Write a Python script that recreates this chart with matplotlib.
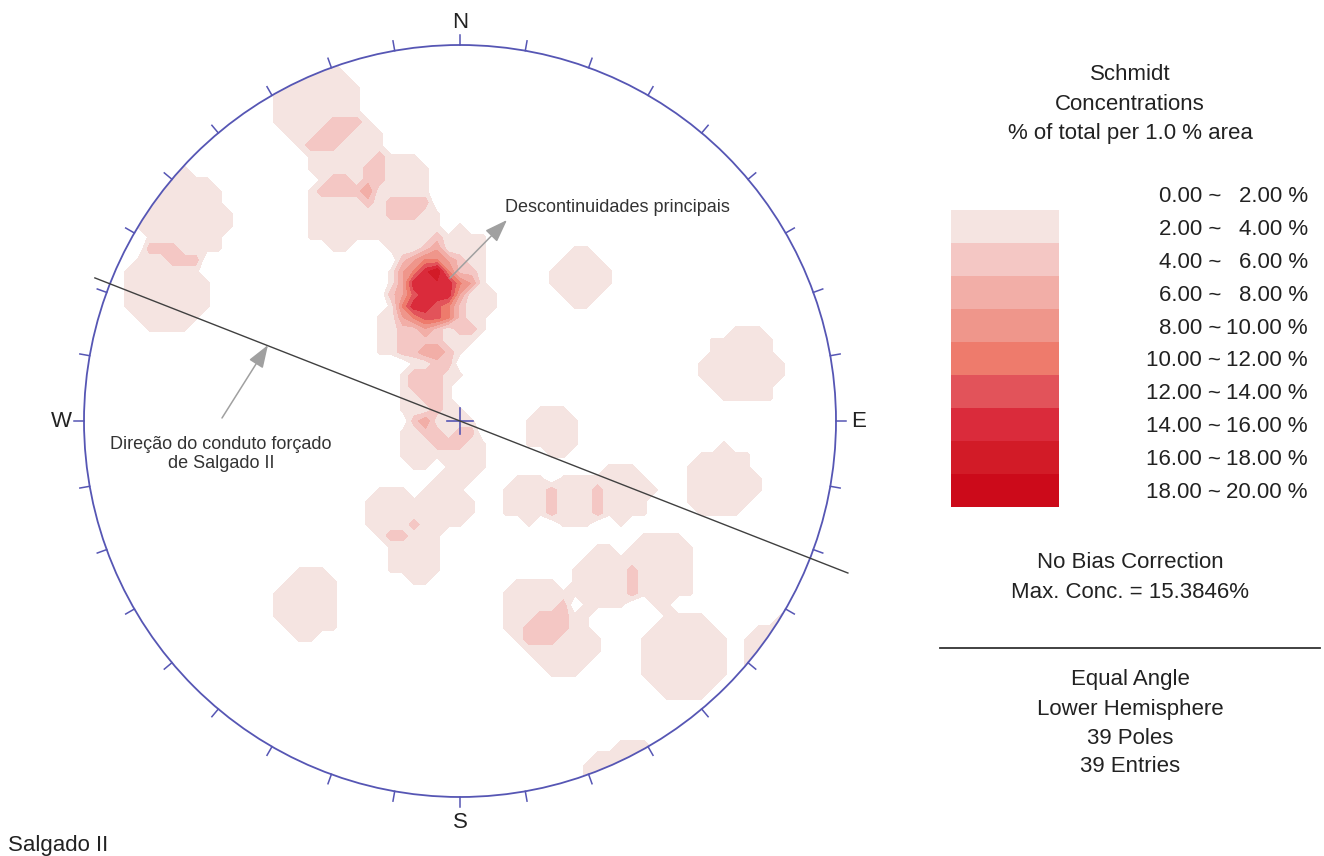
import numpy as np
import matplotlib
matplotlib.use("Agg")
import matplotlib.pyplot as plt
from matplotlib.patches import Circle

# poles: east / north, unit = primitive radius
pole_e = [-0.731, -0.777, -0.378, -0.298, -0.319, -0.165,
          0.319, 0.745, 0.247, 0.686, -0.404,
          -0.120, -0.045, -0.106, -0.059, -0.082, -0.080,
          -0.106, -0.040, -0.066, -0.106, -0.133, -0.165, 0.021,
          -0.027, -0.106, 0.013, 0.005,
          -0.181, -0.040, -0.120,
          0.181, 0.306, 0.431, 0.378, 0.532, 0.199, 0.271, 0.585]
pole_n = [0.540, 0.343, 0.832, 0.694, 0.548, 0.628,
          0.380, 0.141, -0.024, -0.165, -0.484,
          0.370, 0.375, 0.338, 0.332, 0.380, 0.322,
          0.242, 0.223, 0.122, 0.069, 0.503, 0.242, 0.309,
          -0.019, -0.064, -0.090, 0.434,
          -0.242, -0.223, -0.351,
          -0.202, -0.210, -0.189, -0.423, -0.391, -0.503, -0.582, -0.622]

levels = [0, 2, 4, 6, 8, 10, 12, 14, 16, 18, 20]
level_colors = ['#f5e4e1', '#f4c7c4', '#f2aea7', '#ef968b', '#ee7b6c',
                '#e2535a', '#da2b3b', '#d21b27', '#cc0a1a']
penstock_trend = 111.4
max_conc = 15.3846
n_poles = len(pole_e)

W, H = 1324, 856
cx, cy, R = 460, 421, 376
plt.rcParams['font.family'] = ['Liberation Sans', 'DejaVu Sans']


def fpx(px, py):
    # image pixel (top-left origin) -> figure fraction
    return px / W, 1 - py / H


def to_vec(x, y):
    # inverse equal-angle projection, lower hemisphere
    r2 = x ** 2 + y ** 2
    return np.stack([2 * x, 2 * y, 1 - r2]) / (1 + r2)


fig = plt.figure(figsize=(W / 100, H / 100), dpi=100)
half = 400
ax = fig.add_axes([(cx - half) / W, (H - cy - half) / H, 2 * half / W, 2 * half / H])
ax.set_xlim(-half / R, half / R)
ax.set_ylim(-half / R, half / R)
ax.axis('off')

# Schmidt counting, 1% area circle, wrap-around at the primitive
g = np.linspace(-1.1, 1.1, 73)
gx, gy = np.meshgrid(g, g)
nodes = to_vec(gx, gy)
poles = to_vec(np.array(pole_e), np.array(pole_n))
dots = np.abs(np.einsum('ijk,il->jkl', nodes, poles))
dens = (dots >= 0.99).sum(axis=-1) / n_poles * 100
print('max density', dens[gx ** 2 + gy ** 2 <= 1].max())

prim = Circle((0, 0), 1, fill=False, ec='#5656b4', lw=1.3, zorder=3)
ax.add_patch(prim)
cf = ax.contourf(gx, gy, dens, levels=levels[1:], colors=level_colors, zorder=1)
cf.set_clip_path(prim)

# ticks every 10 degrees
for az in range(0, 360, 10):
    s, c = np.sin(np.radians(az)), np.cos(np.radians(az))
    ax.plot([s, s * (1 + 10 / R)], [c, c * (1 + 10 / R)], color='#5656b4', lw=1.1, zorder=3)
# centre cross
d = 13 / R
ax.plot([-d, d], [0, 0], color='#5656b4', lw=1.2, zorder=3)
ax.plot([0, 0], [-d, d], color='#5656b4', lw=1.2, zorder=3)

# penstock direction
s, c = np.sin(np.radians(penstock_trend)), np.cos(np.radians(penstock_trend))
ax.plot([-1.043 * s, 1.108 * s], [-1.043 * c, 1.108 * c], color='#404040', lw=1.0, zorder=4)

for lab, px, py, ha in [('N', 460, 22, 'center'), ('S', 460, 823, 'center'),
                        ('W', 72, 421, 'right'), ('E', 851, 421, 'left')]:
    fig.text(*fpx(px, py), lab, ha=ha, va='center', fontsize=16, color='#222222')

arrow = dict(arrowstyle='-|>,head_length=0.7,head_width=0.25', color='#a0a0a0',
             lw=1.1, mutation_scale=20, shrinkA=0, shrinkB=0)
ax.annotate('', xy=((507 - cx) / R, (cy - 220) / R), xytext=((450 - cx) / R, (cy - 278) / R),
            arrowprops=arrow, zorder=5)
ax.annotate('', xy=((268 - cx) / R, (cy - 345) / R), xytext=((222 - cx) / R, (cy - 418) / R),
            arrowprops=arrow, zorder=5)
fig.text(*fpx(505, 208), 'Descontinuidades principais', ha='left', va='center',
         fontsize=13, color='#333333')
fig.text(*fpx(221, 454), 'Direção do conduto forçado\nde Salgado II', ha='center',
         va='center', fontsize=13, color='#333333', linespacing=1.1)

# legend
for i, t in enumerate(['Schmidt', 'Concentrations', '% of total per 1.0 % area']):
    fig.text(*fpx(1130, 75 + 29 * i), t, ha='center', va='center', fontsize=16, color='#222222')

bar_top, bar_h = 210, 33
lax = fig.add_axes([951 / W, (H - bar_top - bar_h * 9) / H, 108 / W, bar_h * 9 / H])
lax.bar(np.zeros(9), np.ones(9), bottom=np.arange(9), width=1, color=level_colors)
lax.set_xlim(-0.5, 0.5)
lax.set_ylim(9, 0)
lax.axis('off')

for i in range(len(levels) - 1):
    y = 197 + 32.8 * i
    fig.text(*fpx(1221, y), f'{levels[i]:.2f} ~', ha='right', va='center', fontsize=16, color='#222222')
    fig.text(*fpx(1308, y), f'{levels[i + 1]:.2f} %', ha='right', va='center', fontsize=16, color='#222222')

fig.text(*fpx(1130, 563), 'No Bias Correction', ha='center', va='center', fontsize=16, color='#222222')
fig.text(*fpx(1130, 592), f'Max. Conc. = {max_conc:.4f}%', ha='center', va='center',
         fontsize=16, color='#222222')
fig.add_artist(plt.Line2D([940 / W, 1320 / W], [1 - 648 / H, 1 - 648 / H], color='#333333', lw=1.3))
for i, t in enumerate(['Equal Angle', 'Lower Hemisphere', f'{n_poles} Poles', f'{n_poles} Entries']):
    fig.text(*fpx(1130, 680 + 29 * i), t, ha='center', va='center', fontsize=16, color='#222222')

fig.text(*fpx(8, 846), 'Salgado II', ha='left', va='center', fontsize=16, color='#222222')

fig.savefig('out.png', dpi=100, facecolor='white')
